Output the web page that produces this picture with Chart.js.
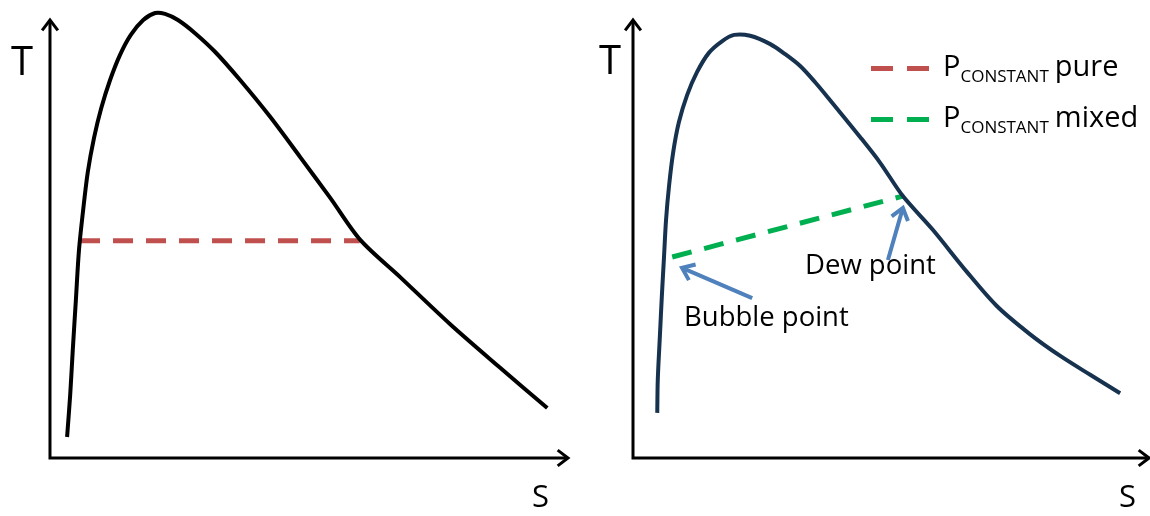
<!DOCTYPE html>
<html>
<head>
<meta charset="utf-8">
<script src="https://cdn.jsdelivr.net/npm/chart.js@4.4.1/dist/chart.umd.min.js"></script>
<style>
  html, body { margin: 0; padding: 0; background: #fff; }
  body { width: 1150px; height: 516px; position: relative; overflow: hidden; font-family: "Open Sans", sans-serif; color: #000; }
  canvas { position: absolute; top: 0; }
  .lbl { position: absolute; line-height: 1; white-space: nowrap; }
  .axis-t { font-size: 40px; }
  .axis-s { font-size: 31px; }
  .note { font-size: 27.5px; }
  .leg { position: absolute; left: 871px; white-space: nowrap; font-size: 29px; line-height: 1; }
  .leg .sw { display: inline-block; width: 22px; height: 5px; vertical-align: middle; margin-right: 14px; }
  .leg sub { font-size: 17px; vertical-align: -6px; margin-right: 6px; }
</style>
</head>
<body>
<canvas id="chart-pure" width="575" height="516" style="left:0"></canvas>
<canvas id="chart-mixed" width="575" height="516" style="left:575px"></canvas>

<div class="lbl axis-t" style="left:11px;top:40px">T</div>
<div class="lbl axis-s" style="left:532px;top:480px">S</div>
<div class="lbl axis-t" style="left:599px;top:39px">T</div>
<div class="lbl axis-s" style="left:1119px;top:480px">S</div>

<div class="lbl note" style="left:805px;top:250px">Dew point</div>
<div class="lbl note" style="left:684px;top:302px">Bubble point</div>

<div class="leg" style="top:50px">
  <span class="sw" style="background:#c0504d"></span><span class="sw" style="background:#c0504d"></span>P<sub>CONSTANT</sub>pure
</div>
<div class="leg" style="top:101px">
  <span class="sw" style="background:#00b050"></span><span class="sw" style="background:#00b050"></span>P<sub>CONSTANT</sub>mixed
</div>

<script>
// T-S diagram values (arbitrary units, axes run 0..100)
const pureS = [3.3, 3.9, 4.4, 5.0, 5.6, 6.4, 7.3, 8.5, 9.9, 11.6, 13.5, 15.6, 18.0, 20.3, 22.2, 24.7, 28.0, 31.9, 36.7, 42.5, 48.3, 54.1, 59.9, 67.6, 77.2, 86.9, 96.0];
const pureT = [4.8, 14.4, 24.7, 36.1, 47.5, 56.6, 65.3, 73.1, 79.9, 86.3, 92.0, 96.6, 100.0, 101.6, 101.4, 100.0, 97.0, 92.7, 86.3, 77.9, 68.7, 59.4, 49.8, 41.3, 30.6, 20.6, 11.4];
const pureLineS = [5.8, 59.8];
const pureLineT = [49.6, 49.6];

const mixS = [4.7, 4.8, 5.2, 5.6, 6.0, 6.4, 7.0, 7.8, 8.9, 10.5, 12.4, 14.7, 17.3, 19.6, 22.7, 26.6, 29.5, 32.4, 35.3, 38.2, 44.0, 47.9, 52.3, 58.1, 64.7, 70.5, 76.9, 82.8, 88.6, 94.4];
const mixT = [10.3, 17.8, 27.6, 37.2, 45.7, 54.3, 62.3, 69.9, 76.7, 82.9, 88.1, 92.5, 95.2, 96.6, 96.4, 94.5, 92.2, 89.5, 85.8, 81.7, 73.3, 67.4, 59.8, 52.1, 42.5, 34.7, 28.3, 23.3, 19.0, 14.8];
const mixLineS = [7.6, 52.3];
const mixLineT = [45.9, 59.8];

// annotation arrows: dew point, bubble point
const arrowTailS = [49.4, 23.1];
const arrowTailT = [45.2, 36.5];
const arrowTipS = [52.3, 9.5];
const arrowTipT = [57.1, 43.4];

const toPts = (xs, ys) => xs.map((x, i) => ({ x, y: ys[i] }));

function chevron(ctx, x1, y1, x2, y2, len) {
  const a = Math.atan2(y2 - y1, x2 - x1);
  ctx.beginPath();
  ctx.moveTo(x2 - len * Math.cos(a - 0.65), y2 - len * Math.sin(a - 0.65));
  ctx.lineTo(x2, y2);
  ctx.lineTo(x2 - len * Math.cos(a + 0.65), y2 - len * Math.sin(a + 0.65));
  ctx.stroke();
}

// axes with arrow heads
const axesPlugin = {
  id: 'axesArrows',
  beforeDatasetsDraw(chart) {
    const { ctx, scales: { x, y } } = chart;
    const ox = x.getPixelForValue(0), oy = y.getPixelForValue(0);
    const ex = x.getPixelForValue(100), ey = y.getPixelForValue(100);
    ctx.save();
    ctx.strokeStyle = '#000';
    ctx.lineWidth = 3;
    ctx.lineJoin = 'miter';
    ctx.beginPath();
    ctx.moveTo(ox, ey + 1);
    ctx.lineTo(ox, oy);
    ctx.lineTo(ex - 1, oy);
    ctx.stroke();
    chevron(ctx, ex - 10, oy, ex, oy, 13);
    chevron(ctx, ox, ey + 10, ox, ey, 13);
    ctx.restore();
  }
};

const notesPlugin = {
  id: 'noteArrows',
  afterDatasetsDraw(chart) {
    if (!chart.options.plugins.noteArrows.show) return;
    const { ctx, scales: { x, y } } = chart;
    ctx.save();
    ctx.strokeStyle = '#4f81bd';
    ctx.lineWidth = 4;
    ctx.lineCap = 'butt';
    arrowTailS.forEach((s, i) => {
      const x1 = x.getPixelForValue(s), y1 = y.getPixelForValue(arrowTailT[i]);
      const x2 = x.getPixelForValue(arrowTipS[i]), y2 = y.getPixelForValue(arrowTipT[i]);
      ctx.beginPath();
      ctx.moveTo(x1, y1);
      ctx.lineTo(x2, y2);
      ctx.stroke();
      chevron(ctx, x1, y1, x2, y2, 14);
    });
    ctx.restore();
  }
};

function makeChart(id, curve, curveColor, dashLine, dashColor, xRange, arrows) {
  return new Chart(document.getElementById(id), {
    type: 'scatter',
    data: {
      datasets: [
        { data: curve, showLine: true, borderColor: curveColor, borderWidth: 4, pointRadius: 0, tension: 0.3, borderJoinStyle: 'round' },
        { data: dashLine, showLine: true, borderColor: dashColor, borderWidth: 5, borderDash: [20, 13], borderCapStyle: 'butt', pointRadius: 0 }
      ]
    },
    options: {
      responsive: false,
      animation: false,
      layout: { padding: 0 },
      scales: {
        x: { type: 'linear', display: false, min: xRange[0], max: xRange[1] },
        y: { type: 'linear', display: false, min: -13.24, max: 104.57 }
      },
      plugins: { legend: { display: false }, tooltip: { enabled: false }, noteArrows: { show: arrows } }
    },
    plugins: [axesPlugin, notesPlugin]
  });
}

makeChart('chart-pure', toPts(pureS, pureT), '#000000', toPts(pureLineS, pureLineT), '#c0504d', [-9.65, 101.35], false);
makeChart('chart-mixed', toPts(mixS, mixT), '#17324f', toPts(mixLineS, mixLineT), '#00b050', [-11.24, 100.19], true);
</script>
</body>
</html>
